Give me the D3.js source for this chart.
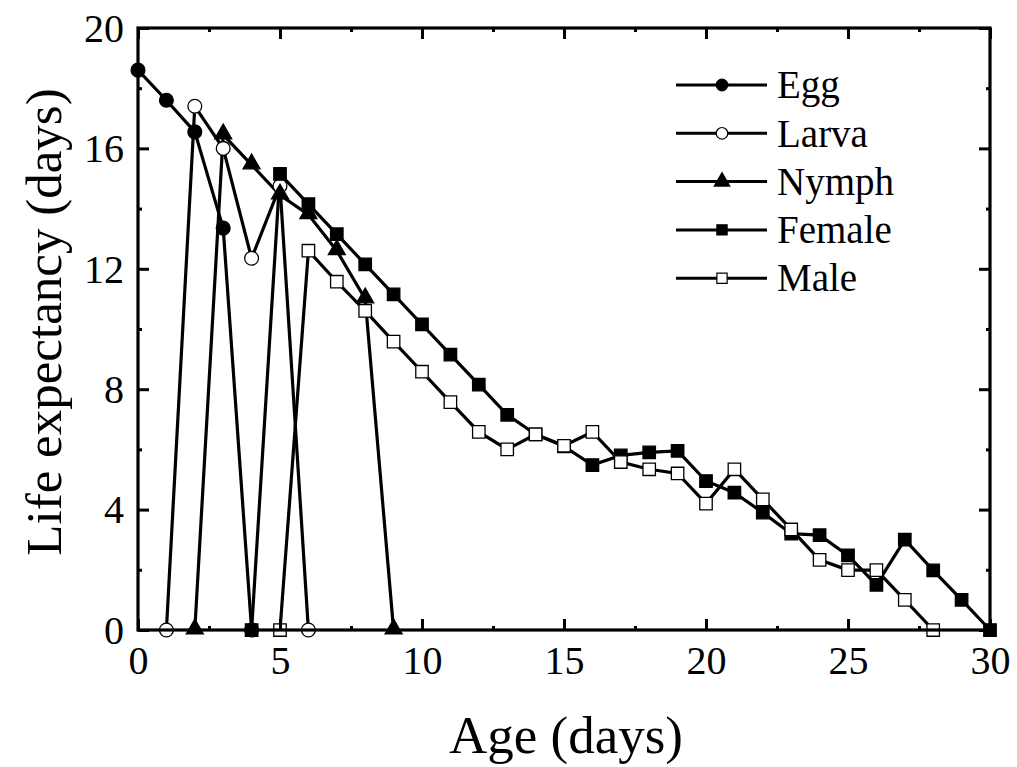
<!DOCTYPE html>
<html><head><meta charset="utf-8">
<script src="https://cdn.jsdelivr.net/npm/d3@7"></script>
<style>body{margin:0;background:#fff}svg{display:block}</style>
</head><body>
<svg id="c" width="1017" height="767"></svg>
<script>
const xTicks = [0,5,10,15,20,25,30];
const yTicks = [0,4,8,12,16,20];
const eggX = [0,1,2,3,4];
const eggY = [18.6,17.6,16.55,13.35,0];
const larvaX = [1,2,3,4,5,6];
const larvaY = [0,17.4,16.0,12.35,14.75,0];
const nymphX = [2,3,4,5,6,7,8,9];
const nymphY = [0,16.45,15.45,14.45,13.8,12.6,11.0,0];
const femaleX = [4,5,6,7,8,9,10,11,12,13,14,15,16,17,18,19,20,21,22,23,24,25,26,27,28,29,30];
const femaleY = [0,15.15,14.15,13.15,12.15,11.15,10.15,9.15,8.15,7.15,6.5,6.1,5.48,5.8,5.9,5.95,4.95,4.56,3.9,3.2,3.15,2.48,1.5,3.0,1.98,1.0,0];
const maleX = [5,6,7,8,9,10,11,12,13,14,15,16,17,18,19,20,21,22,23,24,25,26,27,28];
const maleY = [0,12.6,11.57,10.6,9.58,8.58,7.57,6.58,6.0,6.5,6.12,6.58,5.58,5.34,5.2,4.2,5.34,4.34,3.34,2.33,1.99,1.99,1.0,0];
const seriesNames = ["Egg","Larva","Nymph","Female","Male"];

const series = [
  {name:"Egg", xs:eggX, ys:eggY, shape:"circle", fill:"#000"},
  {name:"Larva", xs:larvaX, ys:larvaY, shape:"circle", fill:"#fff"},
  {name:"Nymph", xs:nymphX, ys:nymphY, shape:"triangle", fill:"#000"},
  {name:"Female", xs:femaleX, ys:femaleY, shape:"square", fill:"#000"},
  {name:"Male", xs:maleX, ys:maleY, shape:"square", fill:"#fff"}
];

const svg = d3.select("#c");
const L=138, R=990, T=28, B=630;
const x = d3.scaleLinear().domain([0,30]).range([L,R]);
const y = d3.scaleLinear().domain([0,20]).range([B,T]);
const font = "'Liberation Serif','Times New Roman',serif";

function sym(shape, size){
  const t = shape==="circle"?d3.symbolCircle:shape==="triangle"?d3.symbolTriangle:d3.symbolSquare;
  return d3.symbol().type(t).size(size)();
}
const sizes = {circle:150, triangle:125, square:155};

const line = d3.line().x(d=>x(d[0])).y(d=>y(d[1]));
series.forEach(s=>{
  const pts = s.xs.map((v,i)=>[v,s.ys[i]]);
  svg.append("path").attr("d",line(pts)).attr("fill","none").attr("stroke","#000").attr("stroke-width",3.2);
});
series.forEach(s=>{
  const pts = s.xs.map((v,i)=>[v,s.ys[i]]);
  svg.append("g").selectAll("path").data(pts).join("path")
    .attr("d",sym(s.shape,sizes[s.shape]))
    .attr("transform",d=>`translate(${x(d[0])},${y(d[1]) + (s.shape==="triangle"?-1:0)})`)
    .attr("fill",s.fill).attr("stroke","#000").attr("stroke-width",1.3);
});

svg.append("g").attr("transform",`translate(0,${B})`)
  .call(d3.axisBottom(x).tickValues(xTicks).tickSizeInner(-11).tickSizeOuter(0).tickPadding(16).tickFormat(d3.format("d")));
svg.append("g").attr("transform",`translate(0,${T})`)
  .call(d3.axisTop(x).tickValues(xTicks).tickSizeInner(-11).tickSizeOuter(0).tickFormat(""));
const gy = svg.append("g").attr("transform",`translate(${L},0)`)
  .call(d3.axisLeft(y).tickValues(yTicks).tickSizeInner(-11).tickSizeOuter(0).tickPadding(14).tickFormat(d3.format("d")));
svg.append("g").attr("transform",`translate(${R},0)`)
  .call(d3.axisRight(y).tickValues(yTicks).tickSizeInner(-11).tickSizeOuter(0).tickFormat(""));
const xMinor = d3.range(2.5,30,5);
const yMinor = d3.range(2,20,4);
svg.append("g").attr("transform",`translate(0,${B})`).call(d3.axisBottom(x).tickValues(xMinor).tickSizeInner(-4).tickSizeOuter(0).tickFormat(""));
svg.append("g").attr("transform",`translate(0,${T})`).call(d3.axisTop(x).tickValues(xMinor).tickSizeInner(-4).tickSizeOuter(0).tickFormat(""));
svg.append("g").attr("transform",`translate(${L},0)`).call(d3.axisLeft(y).tickValues(yMinor).tickSizeInner(-4).tickSizeOuter(0).tickFormat(""));
svg.append("g").attr("transform",`translate(${R},0)`).call(d3.axisRight(y).tickValues(yMinor).tickSizeInner(-4).tickSizeOuter(0).tickFormat(""));

svg.selectAll(".domain").remove();
svg.selectAll(".tick line").attr("stroke","#000").attr("stroke-width",3);
svg.selectAll(".tick text").attr("font-family",font).attr("font-size",40).attr("fill","#000");
gy.selectAll(".tick text").attr("dy","0.33em");

svg.append("rect").attr("x",L).attr("y",T).attr("width",R-L).attr("height",B-T)
  .attr("fill","none").attr("stroke","#000").attr("stroke-width",3.2);

svg.append("text").attr("x",566).attr("y",753).attr("text-anchor","middle")
  .attr("font-family",font).attr("font-size",53).text("Age (days)");
svg.append("text").attr("transform",`translate(61,322) rotate(-90)`).attr("text-anchor","middle")
  .attr("font-family",font).attr("font-size",51).text("Life expectancy (days)");

const lg = svg.append("g");
series.forEach((s,i)=>{
  const cy = 85 + i*48.3;
  lg.append("line").attr("x1",676).attr("x2",767).attr("y1",cy).attr("y2",cy).attr("stroke","#000").attr("stroke-width",3);
  lg.append("path").attr("d",sym(s.shape,105)).attr("transform",`translate(722,${cy})`)
    .attr("fill",s.fill).attr("stroke","#000").attr("stroke-width",1.2);
  lg.append("text").attr("x",777).attr("y",cy).attr("dy","0.34em").attr("font-family",font).attr("font-size",39).text(seriesNames[i]);
});
</script>
</body></html>
